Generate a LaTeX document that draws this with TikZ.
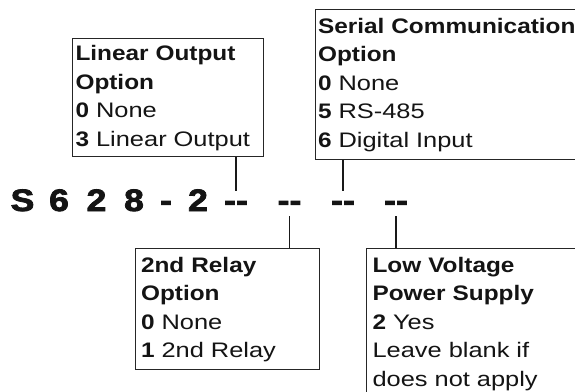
\documentclass[tikz,border=0pt]{standalone}
\usepackage{fontspec}
\setmainfont{Liberation Sans}[UprightFeatures={FakeStretch=1.21},BoldFeatures={FakeStretch=1.16}]
\newfontfamily\codefont{Liberation Sans}[FakeStretch=1.15,FakeBold=2.5]
\begin{document}
\begin{tikzpicture}[x=1pt,y=-1pt,
  optbox/.style={draw=black!85, line width=1.1pt, rectangle, anchor=north west,
    align=left, font=\fontsize{21}{28.5}\selectfont, text=black!92},
  codechar/.style={anchor=base, inner sep=0pt, font=\codefont\bfseries\fontsize{31}{31}\selectfont, text=black!92},
  dashgrp/.style={codechar, text height=20pt, text depth=5pt},
  conn/.style={line width=1.8pt, black!90}]
\useasboundingbox (0,0) rectangle (575,391);
\clip (0,0) rectangle (575,391);
\fill[white] (0,0) rectangle (575,391);

% code line
\node[codechar] (c1) at (22.5,211) {S};
\node[codechar] (c2) at (59,211) {6};
\node[codechar] (c3) at (96.5,211) {2};
\node[codechar] (c4) at (134,211) {8};
\node[codechar] (c5) at (166,211) {-};
\node[codechar] (c6) at (198,211) {2};
\node[dashgrp] (d1) at (236,211) {-{}-};
\node[dashgrp] (d2) at (289.5,211) {-{}-};
\node[dashgrp] (d3) at (343,211) {-{}-};
\node[dashgrp] (d4) at (396,211) {-{}-};

% option boxes
\node[optbox, inner xsep=3pt, inner ysep=2pt, text width=185pt] (lin) at (72,38)
  {\strut\textbf{Linear Output}\\\strut\textbf{Option}\\\strut\textbf{0} None\\\strut\textbf{3} Linear Output};
\node[optbox, inner xsep=2.5pt, inner ysep=3.75pt, text width=285pt] (ser) at (315,9)
  {\strut\textbf{Serial Communication}\\\strut\textbf{Option}\\\strut\textbf{0} None\\\strut\textbf{5} RS-485\\\strut\textbf{6} Digital Input};
\node[optbox, inner xsep=5.5pt, inner ysep=3.5pt, text width=173pt] (rel) at (135,248)
  {\strut\textbf{2nd Relay}\\\strut\textbf{Option}\\\strut\textbf{0} None\\\strut\textbf{1} 2nd Relay};
\node[optbox, inner xsep=6pt, inner ysep=3.5pt, text width=240pt] (low) at (366,248)
  {\strut\textbf{Low Voltage}\\\strut\textbf{Power Supply}\\\strut\textbf{2} Yes\\\strut Leave blank if\\\strut does not apply};

% connectors
\draw[conn] (d1.north |- lin.south) -- (d1.north);
\draw[conn] (d3.north |- ser.south) -- (d3.north);
\draw[conn] (d2.south) -- (d2.south |- rel.north);
\draw[conn] (d4.south) -- (d4.south |- low.north);
\end{tikzpicture}
\end{document}
